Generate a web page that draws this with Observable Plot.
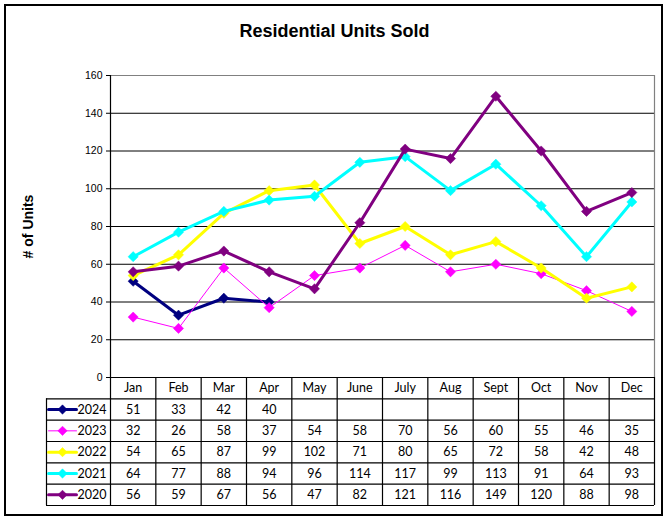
<!DOCTYPE html>
<html>
<head>
<meta charset="utf-8">
<script src="https://cdn.jsdelivr.net/npm/d3@7"></script>
<script src="https://cdn.jsdelivr.net/npm/@observablehq/plot@0.6"></script>
<style>
  html, body { margin: 0; padding: 0; background: #fff; }
  #wrap { position: relative; width: 669px; height: 521px; }
  #border { position: absolute; left: 4px; top: 4px; width: 655px; height: 508px; border: 2px solid #000; pointer-events: none; }
</style>
</head>
<body>
<div id="wrap"><div id="border"></div></div>
<script>
const title = "Residential Units Sold";
const yLabel = "# of Units";
const months = ["Jan","Feb","Mar","Apr","May","June","July","Aug","Sept","Oct","Nov","Dec"];
const years = ["2024","2023","2022","2021","2020"];
const v2024 = [51, 33, 42, 40, null, null, null, null, null, null, null, null];
const v2023 = [32, 26, 58, 37, 54, 58, 70, 56, 60, 55, 46, 35];
const v2022 = [54, 65, 87, 99, 102, 71, 80, 65, 72, 58, 42, 48];
const v2021 = [64, 77, 88, 94, 96, 114, 117, 99, 113, 91, 64, 93];
const v2020 = [56, 59, 67, 56, 47, 82, 121, 116, 149, 120, 88, 98];
const yTicks = [0, 20, 40, 60, 80, 100, 120, 140, 160];

const seriesValues = [v2024, v2023, v2022, v2021, v2020];
const colors = ["#000080", "#FF00FF", "#FFFF00", "#00FFFF", "#800080"];
const widths = [3, 1, 3, 3, 3];

const W = 669, H = 521;
const mL = 110, mR = 15, mT = 75, mB = 144;
const plotBottom = H - mB;             // 377
const k = 160 / (plotBottom - mT);     // data units per px
const yAt = px => (plotBottom - px) * k;
const colW = (W - mL - mR) / 12;
const xAt = px => -0.5 + (px - mL) / colW;
const rowH = 128 / 6;
const rowTop = i => plotBottom + i * rowH;
const rowMid = i => plotBottom + i * rowH + rowH / 2;

const tableLeft = xAt(46);
const tableRight = 11.5;
const tableBottom = yAt(rowTop(6));

const marks = [];
// grid
marks.push(Plot.ruleY(yTicks.filter(t => t > 0 && t < 160), {stroke: "#000", strokeWidth: 1}));
marks.push(Plot.ruleY([160], {stroke: "#808080", strokeWidth: 1.2}));
marks.push(Plot.ruleX([11.5], {y1: 0, y2: 160, stroke: "#808080", strokeWidth: 1.2}));
// y axis
marks.push(Plot.axisY(yTicks, {tickSize: 4, tickPadding: 4, fontSize: 10.5, label: null, stroke: "#000"}));

// table grid
const hLines = d3.range(0, 7);
marks.push(Plot.ruleY(hLines, {y: i => yAt(rowTop(i)), x1: i => i === 0 ? -0.5 : tableLeft, x2: tableRight, stroke: "#000", strokeWidth: 1.2}));
const vLines = d3.range(0, 13);
marks.push(Plot.ruleX(vLines, {x: i => i - 0.5, y1: i => i === 0 ? 160 : 0, y2: tableBottom, stroke: "#000", strokeWidth: 1.2}));
marks.push(Plot.ruleX([tableLeft], {y1: yAt(rowTop(1)), y2: tableBottom, stroke: "#000", strokeWidth: 1.2}));

// series lines and markers (2024 first, 2020 last on top)
seriesValues.forEach((vals, s) => {
  const pts = vals.map((v, i) => ({i, v})).filter(d => d.v != null);
  marks.push(Plot.line(pts, {x: "i", y: "v", stroke: colors[s], strokeWidth: widths[s]}));
  marks.push(Plot.dot(pts, {x: "i", y: "v", symbol: "diamond2", r: 4.6, fill: colors[s], stroke: colors[s], strokeWidth: 0.5}));
});

// table header
marks.push(Plot.text(months, {x: (d, i) => i, y: () => yAt(rowMid(0)), text: d => d, fontSize: 12.5, fontFamily: "Lato", fill: "#000"}));
// table rows + legend
seriesValues.forEach((vals, s) => {
  const r = s + 1;
  const cells = vals.map((v, i) => ({i, v})).filter(d => d.v != null);
  marks.push(Plot.text(cells, {x: "i", y: () => yAt(rowMid(r)), text: d => String(d.v), fontSize: 12.5, fontFamily: "Lato", fill: "#000"}));
  marks.push(Plot.line([0, 1], {x: j => j === 0 ? xAt(48) : xAt(76), y: () => yAt(rowMid(r)), stroke: colors[s], strokeWidth: widths[s]}));
  marks.push(Plot.dot([0], {x: () => xAt(62), y: () => yAt(rowMid(r)), symbol: "diamond2", r: 4.2, fill: colors[s], stroke: colors[s], strokeWidth: 0.5}));
  marks.push(Plot.text([years[s]], {x: () => xAt(77), y: () => yAt(rowMid(r)), text: d => d, textAnchor: "start", fontSize: 12.5, fontFamily: "Lato", fill: "#000"}));
});

// title and y label
marks.push(Plot.text([title], {frameAnchor: "top", lineAnchor: "middle", textAnchor: "middle", dy: -44, dx: -48, text: d => d, fontSize: 18, fontWeight: "bold", fill: "#000"}));
marks.push(Plot.text([yLabel], {frameAnchor: "left", lineAnchor: "middle", textAnchor: "middle", dx: -82, rotate: -90, text: d => d, fontSize: 14, fontWeight: "bold", fill: "#000"}));

const chart = Plot.plot({
  width: W, height: H,
  marginLeft: mL, marginRight: mR, marginTop: mT, marginBottom: mB,
  x: {type: "linear", domain: [-0.5, 11.5], axis: null},
  y: {type: "linear", domain: [0, 160], axis: null},
  style: {fontFamily: "'Liberation Sans', Arial, sans-serif", background: "#fff", color: "#000", overflow: "visible"},
  marks
});
document.getElementById("wrap").prepend(chart);
</script>
</body>
</html>
